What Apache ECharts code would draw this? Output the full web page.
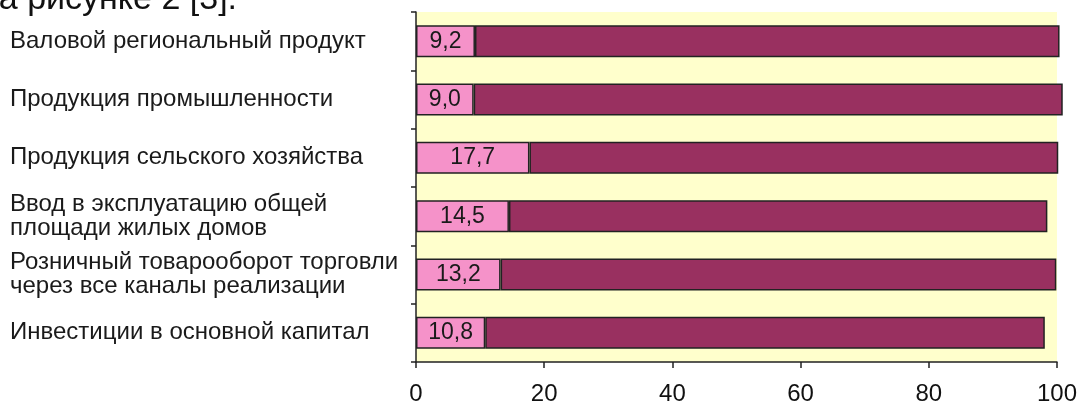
<!DOCTYPE html>
<html><head><meta charset="utf-8">
<script src="https://cdn.jsdelivr.net/npm/echarts@6/dist/echarts.min.js"></script>
<style>html,body{margin:0;padding:0;background:#fff}#c{width:1080px;height:409px}</style>
</head><body><div id="c"></div>
<script>
const categories = [
  "Валовой региональный продукт",
  "Продукция промышленности",
  "Продукция сельского хозяйства",
  "Ввод в эксплуатацию общей\nплощади жилых домов",
  "Розничный товарооборот торговли\nчерез все каналы реализации",
  "Инвестиции в основной капитал"
];
const shareValues = [9.2, 9.0, 17.7, 14.5, 13.2, 10.8];
const restValues = [91.2, 91.9, 82.5, 84.0, 86.7, 87.3];
const xTicks = [0, 20, 40, 60, 80, 100];
const captionText = "на рисунке 2 [3].";

const chart = echarts.init(document.getElementById('c'));
const fontFamily = "'Liberation Sans', Arial, sans-serif";
const narrowFamily = "'Liberation Sans Narrow', 'Arial Narrow', 'Liberation Sans', sans-serif";
chart.setOption({
  animation: false,
  textStyle: { fontFamily },
  grid: { left: 416, right: 23, top: 12, bottom: 47, show: true, backgroundColor: '#FFFFCC', borderWidth: 0 },
  graphic: [{
    type: 'text', left: -20, top: -17,
    style: { text: captionText, fontSize: 34, fontFamily, fill: '#111' }
  }],
  xAxis: {
    type: 'value', min: 0, max: 100, interval: 20,
    splitLine: { show: false },
    axisLine: { show: true, lineStyle: { color: '#222', width: 1.5 } },
    axisTick: { show: true, length: 6, lineStyle: { color: '#222', width: 1.5 } },
    axisLabel: { fontSize: 24, fontFamily: narrowFamily, color: '#111', margin: 20,
      formatter: v => xTicks.includes(v) ? String(v) : '' }
  },
  yAxis: {
    type: 'category', data: categories, inverse: true,
    axisLine: { show: true, lineStyle: { color: '#222', width: 1.5 } },
    axisTick: { show: true, length: 5, lineStyle: { color: '#222', width: 1.5 } },
    axisLabel: { align: 'left', margin: 406, fontSize: 24, color: '#1a1a1a', lineHeight: 24 }
  },
  series: [
    {
      type: 'bar', stack: 'a', data: shareValues, barWidth: 32, clip: false,
      itemStyle: { color: '#F592C9', borderColor: '#222', borderWidth: 1.5 },
      label: { show: true, position: 'inside', fontSize: 23, fontFamily: narrowFamily, color: '#1a1a1a',
        formatter: p => p.value.toFixed(1).replace('.', ',') }
    },
    {
      type: 'bar', stack: 'a', data: restValues, barWidth: 32, clip: false,
      itemStyle: { color: '#993060', borderColor: '#222', borderWidth: 1.5 }
    }
  ]
});
</script></body></html>
